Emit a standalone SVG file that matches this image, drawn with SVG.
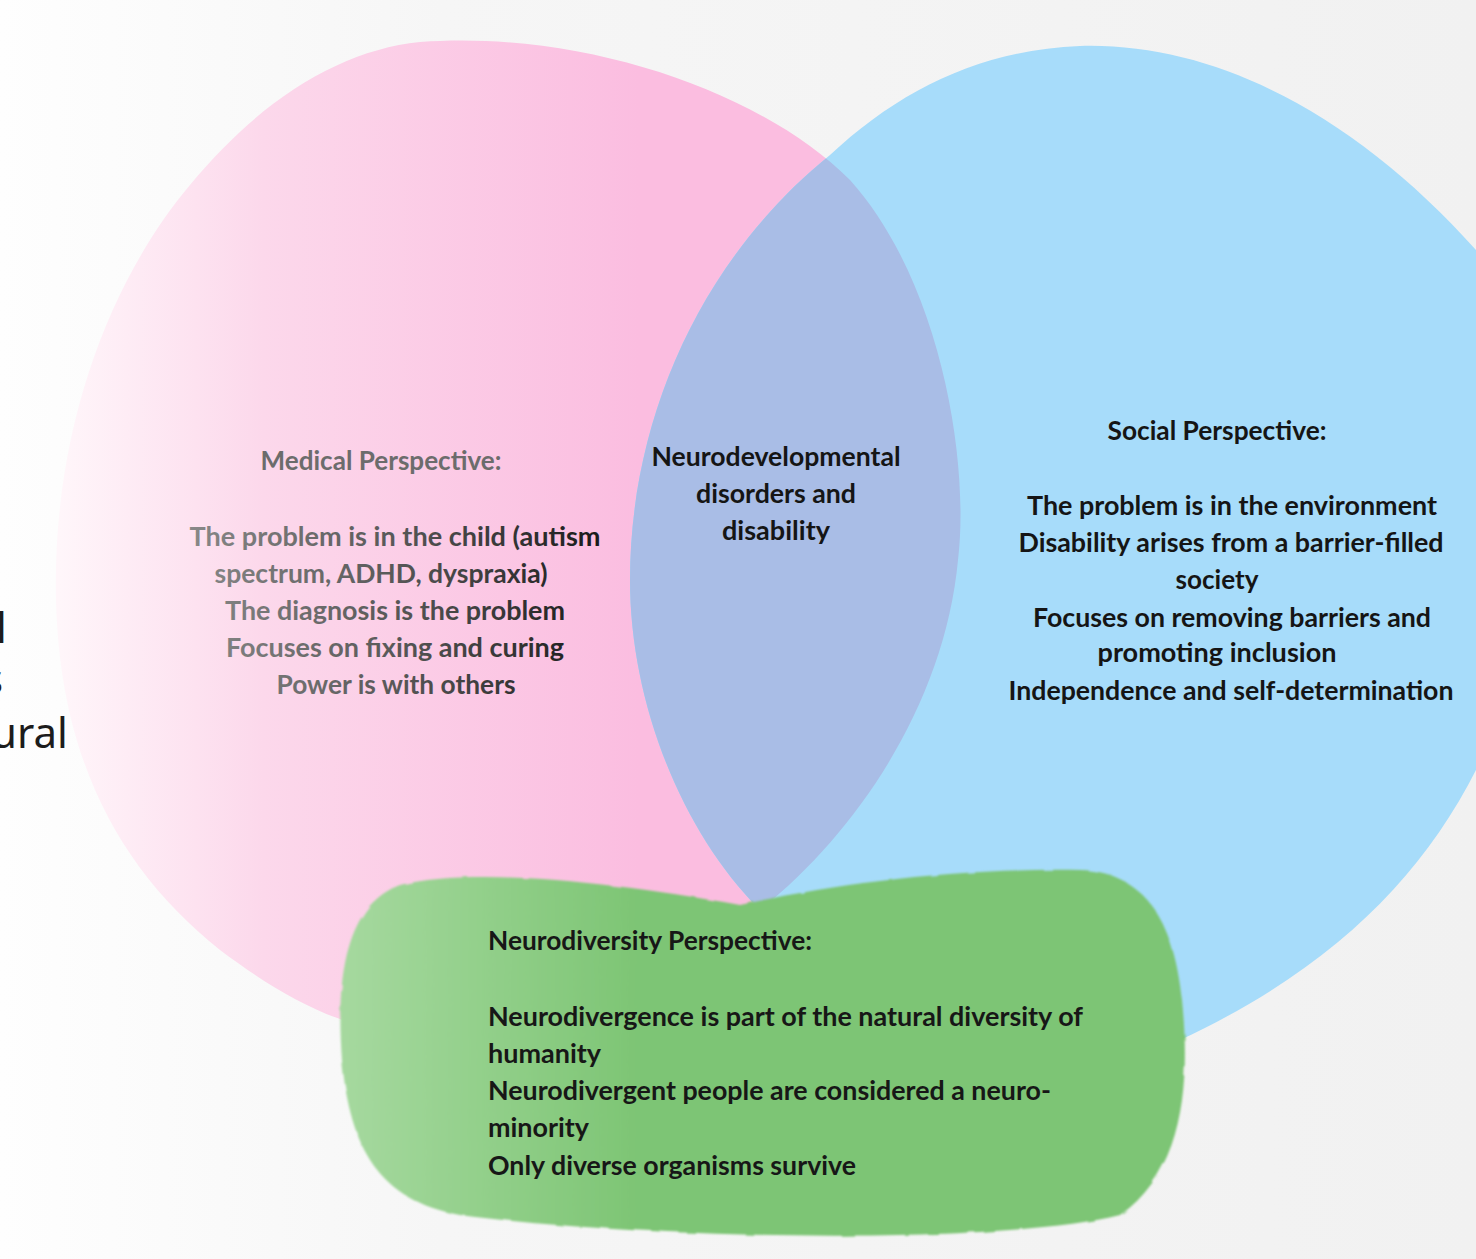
<svg xmlns="http://www.w3.org/2000/svg" width="1476" height="1259" viewBox="0 0 1476 1259">
  <defs>
    <linearGradient id="bg" x1="0" y1="0" x2="1" y2="0">
      <stop offset="0" stop-color="#fefefe"/>
      <stop offset="0.3" stop-color="#f6f6f6"/>
      <stop offset="1" stop-color="#f1f1f1"/>
    </linearGradient>
    <linearGradient id="pinkFill" gradientUnits="userSpaceOnUse" x1="60" y1="0" x2="640" y2="0">
      <stop offset="0" stop-color="#fff6fa"/>
      <stop offset="0.35" stop-color="#fcd8eb"/>
      <stop offset="1" stop-color="#fbbde0"/>
    </linearGradient>
    <linearGradient id="greenFill" gradientUnits="userSpaceOnUse" x1="340" y1="0" x2="640" y2="0">
      <stop offset="0" stop-color="#a6d99f"/>
      <stop offset="1" stop-color="#7dc574"/>
    </linearGradient>
    <linearGradient id="medText" gradientUnits="userSpaceOnUse" x1="190" y1="0" x2="600" y2="0">
      <stop offset="0" stop-color="#888888"/>
      <stop offset="0.5" stop-color="#585858"/>
      <stop offset="1" stop-color="#1a1a1a"/>
    </linearGradient>
    <path id="pinkShape" d="M 420,42 C 580,30 760,90 850,180 C 940,280 970,460 958,560 C 945,700 860,830 760,910 C 700,960 600,1000 480,1030 C 380,1050 300,1010 220,950 C 120,870 60,760 56,600 C 52,430 110,280 190,185 C 260,100 340,50 420,42 Z"/>
    <path id="blueShape" d="M 830,155 C 900,90 980,50 1080,46 C 1220,42 1360,120 1476,250 L 1500,250 L 1500,770 L 1476,770 C 1420,880 1330,970 1180,1040 C 1000,1100 860,1000 760,910 C 680,830 630,700 630,580 C 630,420 700,260 830,155 Z"/>
    <clipPath id="pinkClip">
      <use href="#pinkShape"/>
    </clipPath>
    <!-- soft, brushed edge for the painted blob -->
    <filter id="brush" x="-5%" y="-5%" width="110%" height="110%">
      <feTurbulence type="fractalNoise" baseFrequency="0.05" numOctaves="2" seed="3"/>
      <feDisplacementMap in="SourceGraphic" scale="3"/>
      <feGaussianBlur stdDeviation="0.8"/>
    </filter>
  </defs>
  <style>
    .lbl { font-family: Lato, "Open Sans", "Liberation Sans", sans-serif; font-weight: 700; font-size: 26px; }
    .mid { text-anchor: middle; }
    .dark { fill: #151515; }
    .green { font-size: 27px; fill: #171717; }
    .edge { font-family: "Noto Sans", "DejaVu Sans", sans-serif; font-size: 42px; fill: #1c1c1c; }
  </style>

  <rect width="1476" height="1259" fill="url(#bg)"/>

  <!-- text running off the left edge -->
  <g id="edge-text" class="edge">
    <text x="-4" y="643">l</text>
    <text x="-17" y="694">s</text>
    <text x="-9" y="748">ural</text>
  </g>

  <!-- medical circle -->
  <g id="medical">
    <use href="#pinkShape" fill="url(#pinkFill)"/>
    <g class="lbl mid" fill="url(#medText)">
      <text x="381" y="470" fill="#6c6c6c" textLength="241" lengthAdjust="spacingAndGlyphs">Medical Perspective:</text>
      <text x="395" y="546" textLength="411" lengthAdjust="spacingAndGlyphs">The problem is in the child (autism</text>
      <text x="381" y="583" textLength="333" lengthAdjust="spacingAndGlyphs">spectrum, ADHD, dyspraxia)</text>
      <text x="395" y="620" textLength="340" lengthAdjust="spacingAndGlyphs">The diagnosis is the problem</text>
      <text x="395" y="657" textLength="338" lengthAdjust="spacingAndGlyphs">Focuses on fixing and curing</text>
      <text x="396" y="694" textLength="239" lengthAdjust="spacingAndGlyphs">Power is with others</text>
    </g>
  </g>

  <!-- social circle -->
  <g id="social">
    <use href="#blueShape" fill="#a7dcfa"/>
    <g class="lbl mid dark">
      <text x="1217" y="440" textLength="219" lengthAdjust="spacingAndGlyphs">Social Perspective:</text>
      <text x="1232" y="515" textLength="410" lengthAdjust="spacingAndGlyphs">The problem is in the environment</text>
      <text x="1231" y="552" textLength="425" lengthAdjust="spacingAndGlyphs">Disability arises from a barrier-filled</text>
      <text x="1217" y="589" textLength="83" lengthAdjust="spacingAndGlyphs">society</text>
      <text x="1232" y="627" textLength="398" lengthAdjust="spacingAndGlyphs">Focuses on removing barriers and</text>
      <text x="1217" y="662" textLength="239" lengthAdjust="spacingAndGlyphs">promoting inclusion</text>
      <text x="1231" y="700" textLength="445" lengthAdjust="spacingAndGlyphs">Independence and self-determination</text>
    </g>
  </g>

  <!-- overlap of the two circles -->
  <g id="overlap">
    <use href="#blueShape" fill="#a9bde6" clip-path="url(#pinkClip)"/>
    <g class="lbl mid dark">
      <text x="776" y="466" textLength="249" lengthAdjust="spacingAndGlyphs">Neurodevelopmental</text>
      <text x="776" y="503" textLength="160" lengthAdjust="spacingAndGlyphs">disorders and</text>
      <text x="776" y="540" textLength="108" lengthAdjust="spacingAndGlyphs">disability</text>
    </g>
  </g>

  <!-- neurodiversity blob -->
  <g id="neurodiversity">
    <path filter="url(#brush)" fill="url(#greenFill)" d="M 400,885 C 470,868 600,880 740,905 C 830,885 950,868 1080,870 C 1150,872 1175,930 1182,1000 C 1190,1080 1185,1170 1120,1215 C 1000,1245 650,1240 460,1215 C 380,1200 350,1150 342,1060 C 336,980 345,905 400,885 Z"/>
    <g class="lbl green">
      <text x="488" y="950" textLength="324" lengthAdjust="spacingAndGlyphs">Neurodiversity Perspective:</text>
      <text x="488" y="1026" textLength="595" lengthAdjust="spacingAndGlyphs">Neurodivergence is part of the natural diversity of</text>
      <text x="488" y="1063" textLength="113" lengthAdjust="spacingAndGlyphs">humanity</text>
      <text x="488" y="1100" textLength="563" lengthAdjust="spacingAndGlyphs">Neurodivergent people are considered a neuro-</text>
      <text x="488" y="1137" textLength="101" lengthAdjust="spacingAndGlyphs">minority</text>
      <text x="488" y="1175" textLength="368" lengthAdjust="spacingAndGlyphs">Only diverse organisms survive</text>
    </g>
  </g>
</svg>
